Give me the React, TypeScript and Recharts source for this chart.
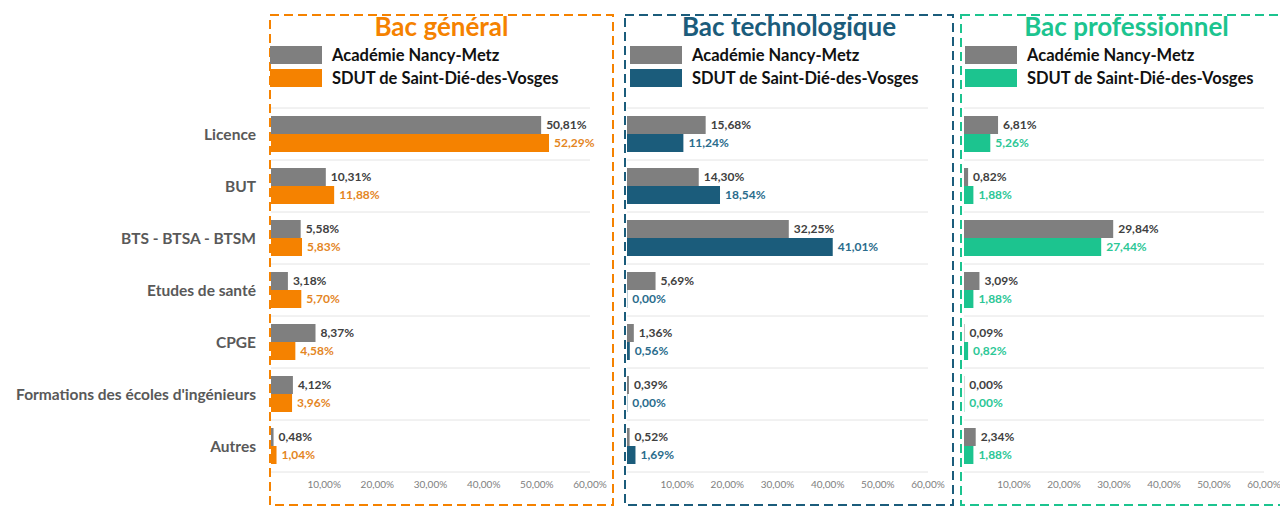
import React from 'react'
import { BarChart, Bar, XAxis, YAxis, CartesianGrid, LabelList } from 'recharts'

const categories = [
  'Licence',
  'BUT',
  'BTS - BTSA - BTSM',
  'Etudes de santé',
  'CPGE',
  "Formations des écoles d'ingénieurs",
  'Autres',
]

const generalAcademie = [50.81, 10.31, 5.58, 3.18, 8.37, 4.12, 0.48]
const generalSdut = [52.29, 11.88, 5.83, 5.7, 4.58, 3.96, 1.04]
const technoAcademie = [15.68, 14.3, 32.25, 5.69, 1.36, 0.39, 0.52]
const technoSdut = [11.24, 18.54, 41.01, 0.0, 0.56, 0.0, 1.69]
const proAcademie = [6.81, 0.82, 29.84, 3.09, 0.09, 0.0, 2.34]
const proSdut = [5.26, 1.88, 27.44, 1.88, 0.82, 0.0, 1.88]

const xTicks = [10, 20, 30, 40, 50, 60]
const legendNames = ['Académie Nancy-Metz', 'SDUT de Saint-Dié-des-Vosges']

const FONT = 'Lato, "Open Sans", sans-serif'
const GRAY = '#7f7f7f'

const fmt = (v: any) => `${Number(v).toFixed(2).replace('.', ',')}%`

const build = (a: number[], b: number[]) =>
  categories.map((c, i) => ({ name: c, academie: a[i], sdut: b[i] }))

interface PanelProps {
  color: string
  labelColor: string
  a: number[]
  b: number[]
  left: number
  yWidth: number
  width: number
  marginRight: number
  showCategories?: boolean
}

function Panel({ color, labelColor, a, b, left, yWidth, width, marginRight, showCategories }: PanelProps) {
  const data = build(a, b)
  return (
    <div style={{ position: 'absolute', left, top: 0 }}>
      <BarChart
        width={width}
        height={506}
        data={data}
        layout="vertical"
        margin={{ top: 108, right: marginRight, bottom: 8, left: 0 }}
        barGap={0}
        barCategoryGap={8}
      >
        <CartesianGrid
          vertical={false}
          stroke="#e4e4e4"
          horizontalCoordinatesGenerator={({ offset }: any) =>
            categories.map((_, i) => offset.top + (i * offset.height) / categories.length).concat(offset.top + offset.height)
          }
        />
        <XAxis
          type="number"
          domain={[0, 60]}
          ticks={xTicks}
          tickFormatter={fmt}
          axisLine={false}
          tickLine={false}
          height={26}
          tickMargin={3}
          tick={{ fontSize: 10, fill: '#808080', fontFamily: FONT }}
        />
        <YAxis
          type="category"
          dataKey="name"
          hide={!showCategories}
          width={yWidth}
          interval={0}
          axisLine={false}
          tickLine={false}
          tickMargin={9}
          tick={{ fontSize: 15.5, fill: '#595959', fontWeight: 700, fontFamily: FONT }}
        />
        <Bar dataKey="academie" fill={GRAY} barSize={18} minPointSize={0.3} isAnimationActive={false}>
          <LabelList
            dataKey="academie"
            position="right"
            offset={5}
            formatter={fmt}
            style={{ fontSize: 12, fontWeight: 700, fill: '#404040', fontFamily: FONT }}
          />
        </Bar>
        <Bar dataKey="sdut" fill={color} barSize={18} minPointSize={0.3} isAnimationActive={false}>
          <LabelList
            dataKey="sdut"
            position="right"
            offset={5}
            formatter={fmt}
            style={{ fontSize: 12, fontWeight: 700, fill: labelColor, fontFamily: FONT }}
          />
        </Bar>
      </BarChart>
    </div>
  )
}

function Header({ title, color, left, right, legendX }: { title: string; color: string; left: number; right: number; legendX: number }) {
  return (
    <>
      <div
        style={{
          position: 'absolute',
          left,
          width: right - left,
          top: 11,
          textAlign: 'center',
          fontFamily: FONT,
          fontWeight: 700,
          fontSize: 26,
          color,
          lineHeight: '30px',
        }}
      >
        {title}
      </div>
      {legendNames.map((n, i) => (
        <div key={n} style={{ position: 'absolute', left: legendX, top: 46 + i * 23, height: 18, display: 'flex', alignItems: 'center' }}>
          <div style={{ width: 52, height: 18, background: i === 0 ? GRAY : color }} />
          <span style={{ marginLeft: 10, fontFamily: FONT, fontWeight: 700, fontSize: 16.5, color: '#111' }}>{n}</span>
        </div>
      ))}
    </>
  )
}

const panels = [
  { title: 'Bac général', color: '#f58200', labelColor: '#e4861f', a: generalAcademie, b: generalSdut, border: [270, 613], legendX: 270 },
  { title: 'Bac technologique', color: '#1b5c7b', labelColor: '#2a6c8c', a: technoAcademie, b: technoSdut, border: [625, 953], legendX: 630 },
  { title: 'Bac professionnel', color: '#1cc48f', labelColor: '#2cc796', a: proAcademie, b: proSdut, border: [961, 1292], legendX: 965 },
]

export default function App() {
  return (
    <div style={{ position: 'absolute', left: 0, top: 0, width: 1280, height: 506, overflow: 'hidden', background: '#fff' }}>
      <svg width={1280} height={506} style={{ position: 'absolute', left: 0, top: 0 }}>
        {panels.map(p => (
          <rect
            key={p.title}
            x={p.border[0]}
            y={15}
            width={p.border[1] - p.border[0]}
            height={490}
            fill="none"
            stroke={p.color}
            strokeWidth={2}
            strokeDasharray="9 5"
          />
        ))}
      </svg>
      <Panel {...panels[0]} left={0} yWidth={271} width={620} marginRight={30} showCategories />
      <Panel {...panels[1]} left={627} yWidth={0} width={330} marginRight={29} />
      <Panel {...panels[2]} left={964} yWidth={0} width={330} marginRight={30} />
      {panels.map(p => (
        <Header key={p.title} title={p.title} color={p.color} left={p.border[0]} right={Math.min(p.border[1], 1300)} legendX={p.legendX} />
      ))}
    </div>
  )
}
